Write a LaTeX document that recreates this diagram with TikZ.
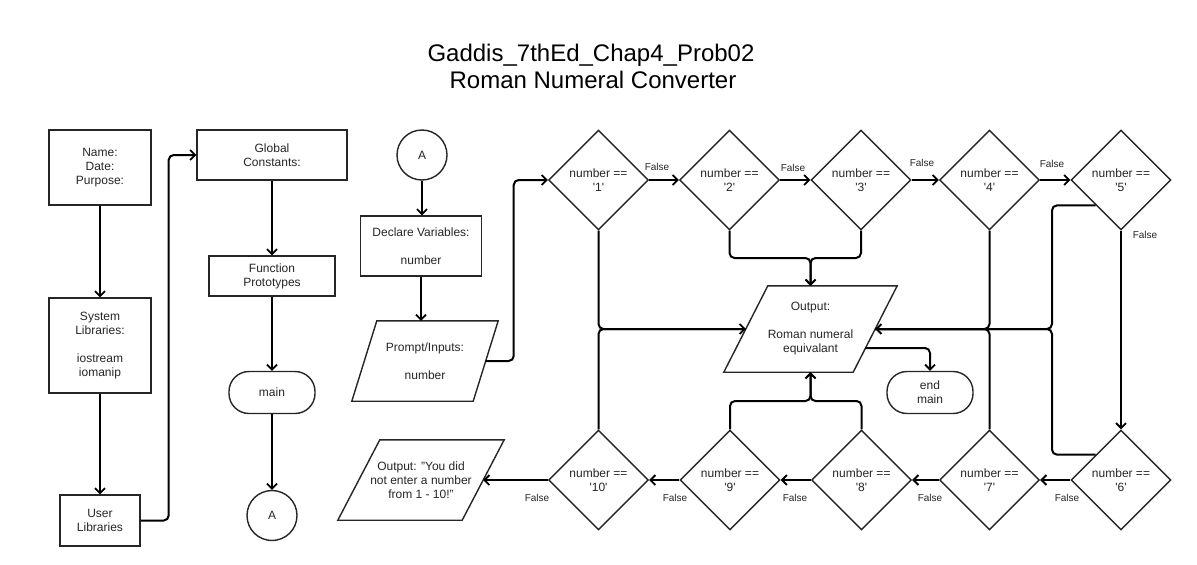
\documentclass[tikz,border=0pt]{standalone}
\usepackage{fontspec}
\setmainfont{Liberation Sans}
\usetikzlibrary{shapes.geometric,arrows.meta,calc}
\newcommand{\sq}{\textquotesingle}
\begin{document}
\begin{tikzpicture}[x=1pt,y=-1pt,
  every node/.style={font=\fontsize{12}{14}\selectfont, text=black!85, align=center, inner sep=0},
  box/.style={draw=black!85, line width=1.4, rectangle},
  term/.style={draw=black!85, line width=1.4, rectangle, rounded corners=20, minimum width=86, minimum height=42},
  conncirc/.style={draw=black!85, line width=1.4, circle, minimum size=50},
  dec/.style={draw=black!85, line width=1.4, diamond, aspect=1, minimum width=100, minimum height=100},
  pgram/.style={rectangle, inner sep=0},
  pline/.style={draw=black!85, line width=1.4},
  conn/.style={draw=black, line width=2, rounded corners=5, -{Straight Barb[length=5,width=10,line width=1.8]}},
  wire/.style={draw=black, line width=2, rounded corners=5},
  flab/.style={font=\fontsize{10}{12}\selectfont},
  ttl/.style={font=\fontsize{24}{27}\selectfont, text=black, anchor=base}
]
\fill[white] (0,0) rectangle (1197,565);
\useasboundingbox (0,0) rectangle (1197,565);

% title
\node[ttl] (t1) at (591,61) {Gaddis\_7thEd\_Chap4\_Prob02};
\node[ttl] (t2) at (593,88) {Roman Numeral Converter};

% left column
\node[box, minimum width=102, minimum height=75] (name) at (100,167.5) {Name:\\Date:\\Purpose:};
\node[box, minimum width=102, minimum height=95] (sys) at (100,345.5) {System\\Libraries:\\[14pt]iostream\\iomanip};
\node[box, minimum width=80, minimum height=51] (user) at (100,520.5) {User\\Libraries};

\node[box, minimum width=150, minimum height=50] (glob) at (272,155) {Global\\Constants:};
\node[box, minimum width=126, minimum height=40] (func) at (272,276) {Function\\Prototypes};
\node[term] (main) at (272,392.5) {main};
\node[conncirc] (A1) at (272,515.5) {A};

\node[conncirc] (A2) at (422,155) {A};
\node[box, minimum width=121, minimum height=60] (decl) at (421,246) {Declare Variables:\\[14pt]number};
\node[pgram, minimum width=146, minimum height=80] (pi) at (425,361) {Prompt/Inputs:\\[14pt]number};
\draw[pline] ([xshift=25]pi.north west) -- (pi.north east) -- ([xshift=-25]pi.south east) -- (pi.south west) -- cycle;
\coordinate (piR) at ($(pi.east)+(-12.5,0)$);

% decisions top row
\node[dec] (d1) at (598.5,180) {number ==\\\sq 1\sq};
\node[dec] (d2) at (729.5,180) {number ==\\\sq 2\sq};
\node[dec] (d3) at (861,180) {number ==\\\sq 3\sq};
\node[dec] (d4) at (989.5,180) {number ==\\\sq 4\sq};
\node[dec] (d5) at (1121,180) {number ==\\\sq 5\sq};
% bottom row
\node[dec] (d6) at (1121,480) {number ==\\\sq 6\sq};
\node[dec] (d7) at (989.5,480) {number ==\\\sq 7\sq};
\node[dec] (d8) at (861.5,480) {number ==\\\sq 8\sq};
\node[dec] (d9) at (730,480) {number ==\\\sq 9\sq};
\node[dec] (d10) at (598.5,480) {number ==\\\sq 10\sq};

% output nodes
\node[pgram, minimum width=173, minimum height=86] (out) at (810.5,329) {Output:\\[14pt]Roman numeral\\equivalant};
\draw[pline] ([xshift=44]out.north west) -- (out.north east) -- ([xshift=-44]out.south east) -- (out.south west) -- cycle;
\coordinate (outL) at ($(out.west)+(22,0)$);
\coordinate (outR) at ($(out.east)+(-22,0)$);
\coordinate (outE) at (865,348);
\node[term] (endm) at (930,392.5) {end\\main};

\node[pgram, minimum width=166, minimum height=80] (err) at (421,480) {Output: "You did\\not enter a number\\from 1 - 10!"};
\draw[pline] ([xshift=42]err.north west) -- (err.north east) -- ([xshift=-42]err.south east) -- (err.south west) -- cycle;
\coordinate (errR) at ($(err.east)+(-21,0)$);

% connectors left part
\draw[conn] (name) -- (sys);
\draw[conn] (sys) -- (user);
\draw[conn] (user.east) -- ++(28,0) |- (glob.west);
\draw[conn] (glob) -- (func);
\draw[conn] (func) -- (main);
\draw[conn] (main) -- (A1);
\draw[conn] (A2.south) -- (A2.south |- decl.north);
\draw[conn] (decl.south) -- (decl.south |- pi.north);
\draw[conn] (piR) -- ++(28,0) |- (d1.west);

% chain
\draw[conn] (d1) -- (d2);
\draw[conn] (d2) -- (d3);
\draw[conn] (d3) -- (d4);
\draw[conn] (d4) -- (d5);
\draw[conn] (d5) -- (d6);
\draw[conn] (d6) -- (d7);
\draw[conn] (d7) -- (d8);
\draw[conn] (d8) -- (d9);
\draw[conn] (d9) -- (d10);
\draw[conn] (d10.west) -- (errR);

\node[flab] (f1) at (657,167) {False};
\node[flab] (f2) at (793,168) {False};
\node[flab] (f3) at (922,163) {False};
\node[flab] (f4) at (1052,164) {False};
\node[flab] (f5) at (1145,235) {False};
\node[flab] (f6) at (1067,498) {False};
\node[flab] (f7) at (930,498) {False};
\node[flab] (f8) at (795,498) {False};
\node[flab] (f9) at (675,498) {False};
\node[flab] (f10) at (537,498) {False};

% true branches to output
\coordinate (jt) at (810.5,258);
\coordinate (jb) at (810.5,401);
\coordinate (vx) at (1052,329);
\draw[conn] (d1.south) |- (outL);
\draw[wire] (d10.north) |- (outL);
\draw[conn] (d2.south) |- (jt) -- (out.north);
\draw[conn] (d3.south) |- (jt) -- (out.north);
\draw[conn] (d9.north) |- (jb) -- (out.south);
\draw[conn] (d8.north) |- (jb) -- (out.south);
\draw[conn] (d4.south) |- (outR);
\draw[wire] (d7.north) |- (outR);
\draw[wire] (d5.south west) -| (vx) -- (outR);
\draw[wire] (d6.north west) -| (vx) -- (outR);
\draw[conn] (outE) -| (endm.north);
\end{tikzpicture}
\end{document}
